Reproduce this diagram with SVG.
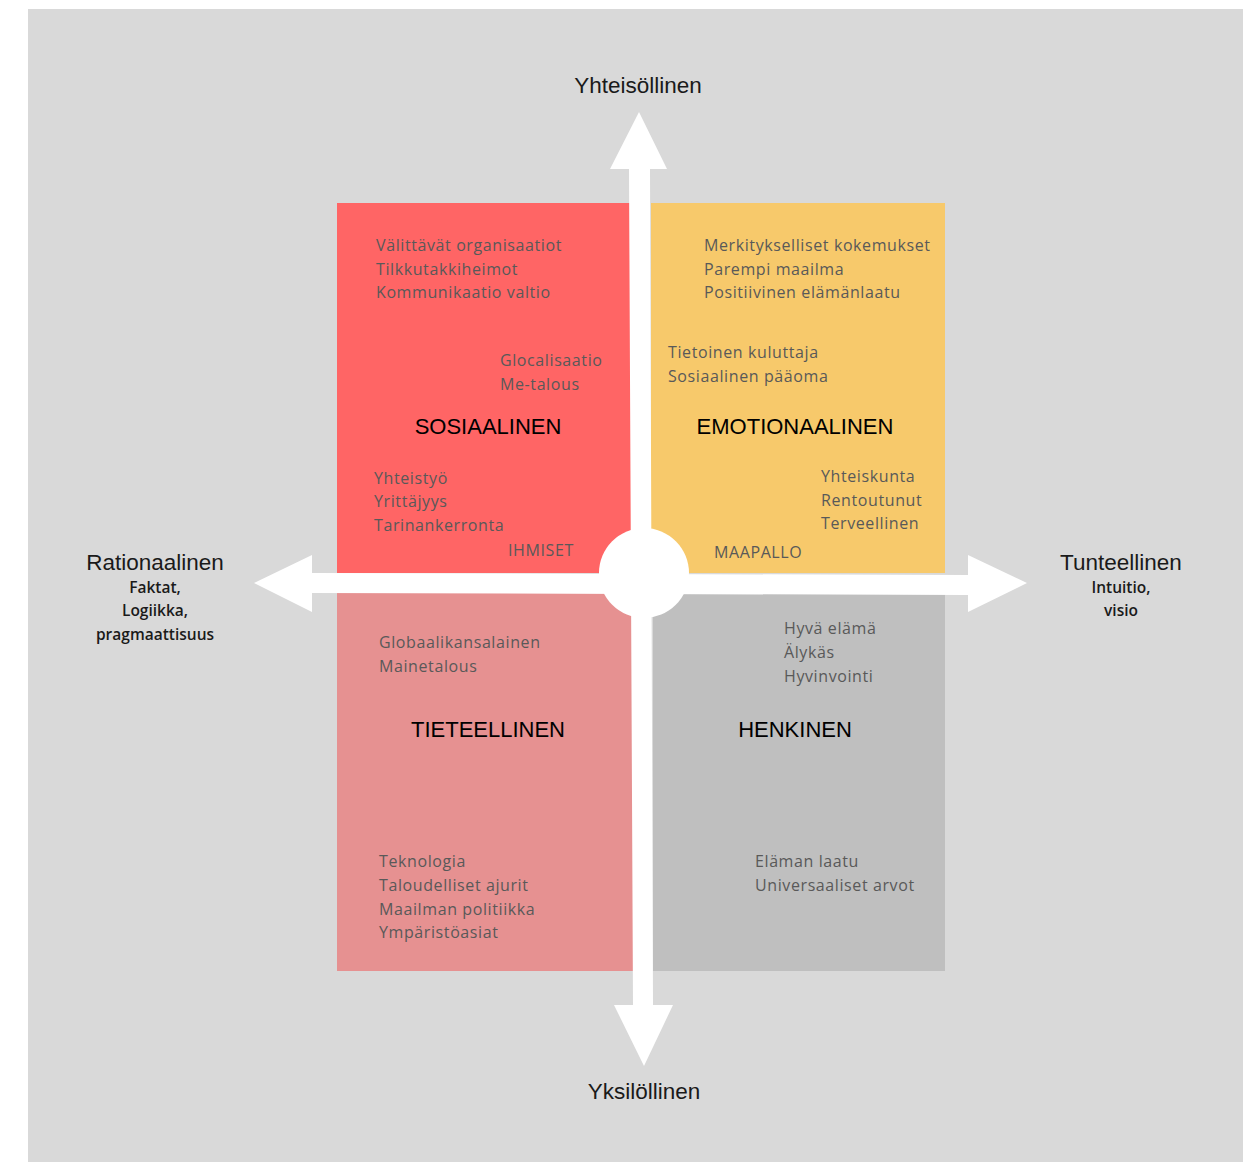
<svg xmlns="http://www.w3.org/2000/svg" width="1243" height="1162" viewBox="0 0 1243 1162">
<style>
.item{font-family:"Open Sans","Liberation Sans",sans-serif;font-size:16px;letter-spacing:0.6px;fill:#595959}
.head{font-family:"Liberation Sans",Arial,sans-serif;font-size:22px;fill:#000;text-anchor:middle}
.axis{font-family:"Liberation Sans",Arial,sans-serif;font-size:22.5px;fill:#1a1a1a;text-anchor:middle}
.sub{font-family:"Open Sans","Liberation Sans",sans-serif;font-size:15.5px;font-weight:600;fill:#1a1a1a;text-anchor:middle}
.arrow{fill:#fff}
</style>
<rect x="0" y="0" width="1243" height="1162" fill="#fff"/>
<rect x="28" y="9" width="1215" height="1153" fill="#d9d9d9"/>
<g id="sosiaalinen">
<rect x="337" y="203" width="294" height="370" fill="#ff6565"/>
<text class="head" x="488" y="434">SOSIAALINEN</text>
<text class="item" x="376" y="251">Välittävät organisaatiot</text>
<text class="item" x="376" y="275">Tilkkutakkiheimot</text>
<text class="item" x="376" y="298">Kommunikaatio valtio</text>
<text class="item" x="500" y="366">Glocalisaatio</text>
<text class="item" x="500" y="390">Me-talous</text>
<text class="item" x="374" y="484">Yhteistyö</text>
<text class="item" x="374" y="507">Yrittäjyys</text>
<text class="item" x="374" y="531">Tarinankerronta</text>
<text class="item" x="508" y="556">IHMISET</text>
</g>
<g id="emotionaalinen">
<rect x="651" y="203" width="294" height="370" fill="#f7c96b"/>
<text class="head" x="795" y="434">EMOTIONAALINEN</text>
<text class="item" x="704" y="251">Merkitykselliset kokemukset</text>
<text class="item" x="704" y="275">Parempi maailma</text>
<text class="item" x="704" y="298">Positiivinen elämänlaatu</text>
<text class="item" x="668" y="358">Tietoinen kuluttaja</text>
<text class="item" x="668" y="382">Sosiaalinen pääoma</text>
<text class="item" x="821" y="482">Yhteiskunta</text>
<text class="item" x="821" y="506">Rentoutunut</text>
<text class="item" x="821" y="529">Terveellinen</text>
<text class="item" x="714" y="558">MAAPALLO</text>
</g>
<g id="tieteellinen">
<rect x="337" y="593" width="296" height="378" fill="#e69191"/>
<text class="head" x="488" y="737">TIETEELLINEN</text>
<text class="item" x="379" y="648">Globaalikansalainen</text>
<text class="item" x="379" y="672">Mainetalous</text>
<text class="item" x="379" y="867">Teknologia</text>
<text class="item" x="379" y="891">Taloudelliset ajurit</text>
<text class="item" x="379" y="915">Maailman politiikka</text>
<text class="item" x="379" y="938">Ympäristöasiat</text>
</g>
<g id="henkinen">
<rect x="653" y="593" width="292" height="378" fill="#bfbfbf"/>
<text class="head" x="795" y="737">HENKINEN</text>
<text class="item" x="784" y="634">Hyvä elämä</text>
<text class="item" x="784" y="658">Älykäs</text>
<text class="item" x="784" y="682">Hyvinvointi</text>
<text class="item" x="755" y="867">Eläman laatu</text>
<text class="item" x="755" y="891">Universaaliset arvot</text>
</g>
<g id="connectors">
<polygon class="arrow" points="639,112 667,169 650,169 653,1005 673,1005 644,1066 614,1005 633,1005 629,169 610,169"/>
<polygon class="arrow" points="254,583 312,555 312,573 968,575 968,555 1027,583 968,612 968,595 312,593 312,612"/>
<circle class="arrow" cx="644" cy="573" r="45"/>
</g>
<g id="yhteisollinen"><text class="axis" x="638" y="93">Yhteisöllinen</text></g>
<g id="yksilollinen"><text class="axis" x="644" y="1099">Yksilöllinen</text></g>
<g id="rationaalinen">
<text class="axis" x="155" y="570">Rationaalinen</text>
<text class="sub" x="155" y="593">Faktat,</text>
<text class="sub" x="155" y="616">Logiikka,</text>
<text class="sub" x="155" y="640">pragmaattisuus</text>
</g>
<g id="tunteellinen">
<text class="axis" x="1121" y="570">Tunteellinen</text>
<text class="sub" x="1121" y="593">Intuitio,</text>
<text class="sub" x="1121" y="616">visio</text>
</g>
</svg>
